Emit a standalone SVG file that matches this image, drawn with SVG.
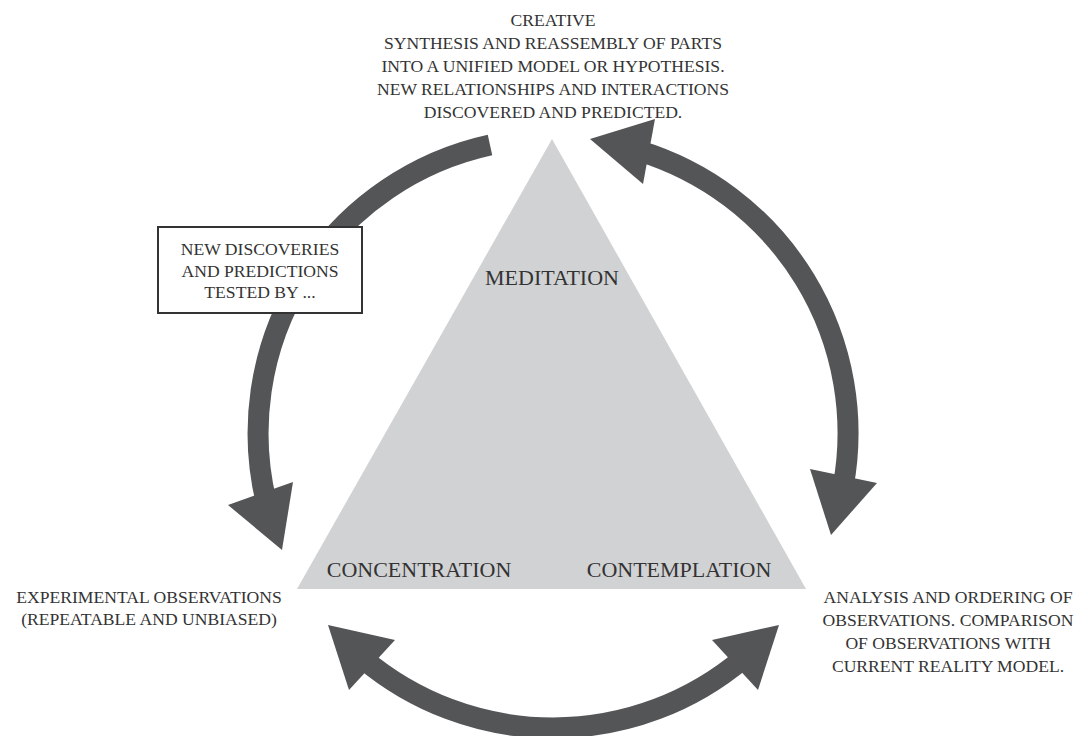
<svg xmlns="http://www.w3.org/2000/svg" width="1088" height="736" viewBox="0 0 1088 736">
  <style>
    .t { font-family: "Liberation Serif", "Times New Roman", serif; fill: #333333; text-anchor: middle; }
    .s { font-size: 17.6px; }
    .l { font-size: 22px; }
    .arc { fill: none; stroke: #545557; stroke-width: 21; stroke-linecap: butt; }
    .head { fill: #545557; }
  </style>
  <rect width="1088" height="736" fill="#ffffff"/>

  <g id="triangle">
    <polygon points="552,139 297,589 806,589" fill="#d1d2d4"/>
    <text class="t l" x="552" y="285">MEDITATION</text>
    <text class="t l" x="419" y="577">CONCENTRATION</text>
    <text class="t l" x="679" y="577">CONTEMPLATION</text>
  </g>

  <g id="connectors">
    <path class="arc" d="M 490,145 A 295 295 0 0 0 266.3,502.4"/>
    <polygon class="head" points="228,505 293,482 282,550"/>
    <path class="arc" d="M 638.3,150.6 A 295 295 0 0 1 843.2,486.2"/>
    <polygon class="head" points="590,139 655,119 643,184"/>
    <polygon class="head" points="810,469 877,483 831,535"/>
    <path class="arc" d="M 743,658.6 A 295 295 0 0 1 363,658.6"/>
    <polygon class="head" points="328,625 395,640 349,690"/>
    <polygon class="head" points="779,625 712,640 758,690"/>
  </g>

  <g id="top-node">
    <text class="t s" x="553" y="26">CREATIVE</text>
    <text class="t s" x="553" y="49">SYNTHESIS AND REASSEMBLY OF PARTS</text>
    <text class="t s" x="553" y="72">INTO A UNIFIED MODEL OR HYPOTHESIS.</text>
    <text class="t s" x="553" y="95">NEW RELATIONSHIPS AND INTERACTIONS</text>
    <text class="t s" x="553" y="118">DISCOVERED AND PREDICTED.</text>
  </g>

  <g id="box-node">
    <rect x="158" y="227" width="204" height="86" fill="#ffffff" stroke="#333333" stroke-width="2"/>
    <text class="t s" x="260" y="255">NEW DISCOVERIES</text>
    <text class="t s" x="260" y="277">AND PREDICTIONS</text>
    <text class="t s" x="260" y="298">TESTED BY ...</text>
  </g>

  <g id="left-node">
    <text class="t s" x="149" y="603">EXPERIMENTAL OBSERVATIONS</text>
    <text class="t s" x="149" y="625">(REPEATABLE AND UNBIASED)</text>
  </g>

  <g id="right-node">
    <text class="t s" x="948" y="603">ANALYSIS AND ORDERING OF</text>
    <text class="t s" x="948" y="626">OBSERVATIONS. COMPARISON</text>
    <text class="t s" x="948" y="649">OF OBSERVATIONS WITH</text>
    <text class="t s" x="948" y="672">CURRENT REALITY MODEL.</text>
  </g>
</svg>
